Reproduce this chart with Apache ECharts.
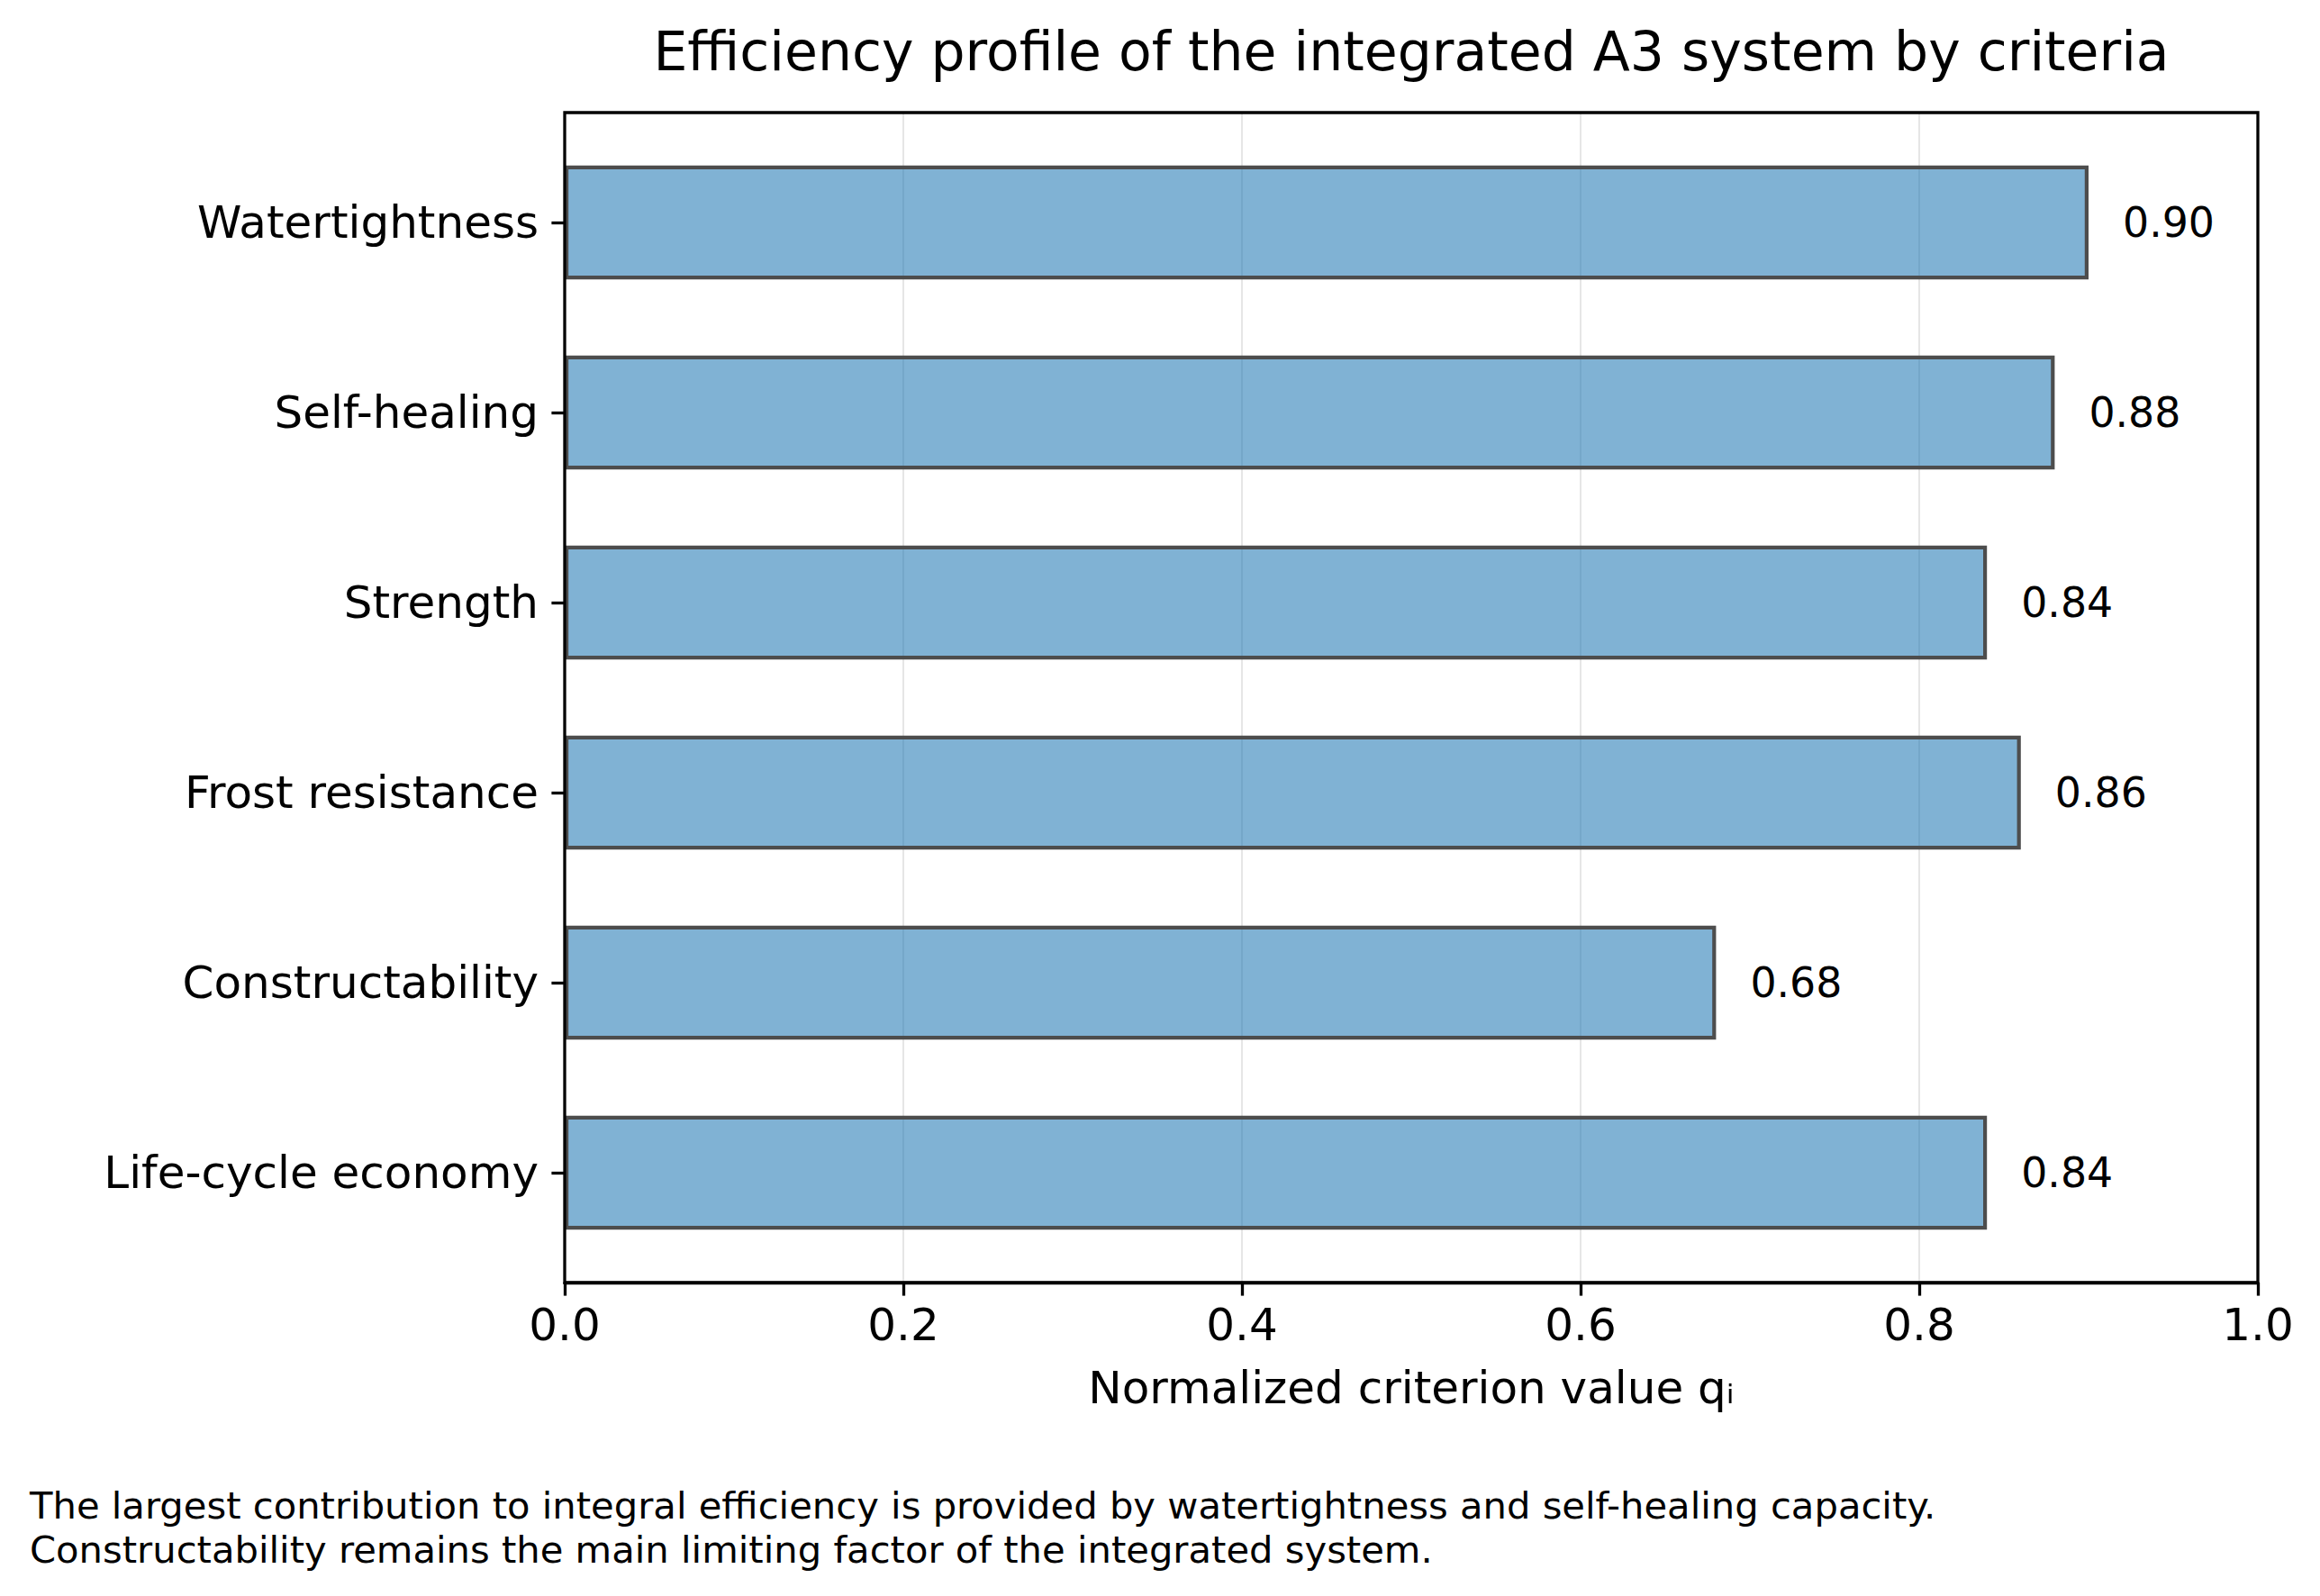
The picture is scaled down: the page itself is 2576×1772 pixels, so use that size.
<!DOCTYPE html>
<html>
<head>
<meta charset="utf-8">
<script src="https://cdn.jsdelivr.net/npm/echarts@6/dist/echarts.min.js"></script>
<style>
html,body{margin:0;padding:0;background:#fff;}
#chart{width:2576px;height:1772px;}
</style>
</head>
<body>
<div id="chart"></div>
<script>
const categories = ["Watertightness", "Self-healing", "Strength", "Frost resistance", "Constructability", "Life-cycle economy"];
const values = [0.90, 0.88, 0.84, 0.86, 0.68, 0.84];
const xTicks = [0.0, 0.2, 0.4, 0.6, 0.8, 1.0];
const titleText = "Efficiency profile of the integrated A3 system by criteria";
const xAxisName = "Normalized criterion value q\u1D62";
const noteLines = [
  "The largest contribution to integral efficiency is provided by watertightness and self-healing capacity.",
  "Constructability remains the main limiting factor of the integrated system."
];

const FONT = "DejaVu Sans";
const chart = echarts.init(document.getElementById('chart'), null, {renderer: 'svg'});

const option = {
  backgroundColor: '#ffffff',
  animation: false,
  textStyle: {fontFamily: FONT, color: '#000'},
  grid: [
    {left: 627, right: 69, top: 141.5, height: 1266, containLabel: false},
    {left: 627, right: 69, top: 125, bottom: 348, show: true, borderColor: '#000', borderWidth: 3.3, z: 5, backgroundColor: 'transparent'}
  ],
  xAxis: [
    {gridIndex: 0, type: 'value', min: 0, max: 1, show: false},
    {
      gridIndex: 1, type: 'value', min: 0, max: 1, interval: 0.2, z: 0,
      axisLine: {show: true, lineStyle: {color: '#000', width: 3.3}},
      axisTick: {show: true, length: 14.6, lineStyle: {color: '#000', width: 3.3}},
      axisLabel: {
        show: true, color: '#000', fontSize: 50, fontFamily: FONT, margin: 22,
        formatter: function (v) { return xTicks.indexOf(+v.toFixed(1)) >= 0 ? v.toFixed(1) : ''; }
      },
      splitLine: {show: true, lineStyle: {color: '#e6e6e6', width: 2}},
      name: xAxisName, nameLocation: 'middle', nameGap: 92,
      nameTextStyle: {color: '#000', fontSize: 50, fontFamily: FONT}
    }
  ],
  yAxis: [
    {
      gridIndex: 0, type: 'category', data: categories, inverse: true,
      axisLine: {show: false},
      axisTick: {show: true, alignWithLabel: true, length: 14.6, lineStyle: {color: '#000', width: 3.3}},
      axisLabel: {color: '#000', fontSize: 50, fontFamily: FONT, margin: 29},
      splitLine: {show: false}
    },
    {gridIndex: 1, type: 'value', min: 0, max: 1, show: false, splitLine: {show: false}}
  ],
  series: [{
    type: 'bar',
    xAxisIndex: 0, yAxisIndex: 0,
    data: values,
    barWidth: '60%',
    z: 2,
    itemStyle: {color: 'rgba(31,119,180,0.57)', borderColor: '#4d4d4d', borderWidth: 4.2},
    label: {
      show: true, position: 'right', distance: 38, color: '#000', fontSize: 45.8, fontFamily: FONT,
      formatter: function (p) { return p.value.toFixed(2); }
    }
  }],
  graphic: [
    {type: 'text', x: 1567, y: 57, style: {text: titleText, font: '60px "DejaVu Sans"', fill: '#000', textAlign: 'center', textVerticalAlign: 'middle', align: 'center', verticalAlign: 'middle'}},
    {type: 'text', x: 33, y: 1671, style: {text: noteLines[0], font: '41.7px "DejaVu Sans"', fill: '#000', textAlign: 'left', textVerticalAlign: 'middle', align: 'left', verticalAlign: 'middle'}},
    {type: 'text', x: 33, y: 1720, style: {text: noteLines[1], font: '41.7px "DejaVu Sans"', fill: '#000', textAlign: 'left', textVerticalAlign: 'middle', align: 'left', verticalAlign: 'middle'}}
  ]
};
chart.setOption(option);
</script>
</body>
</html>
